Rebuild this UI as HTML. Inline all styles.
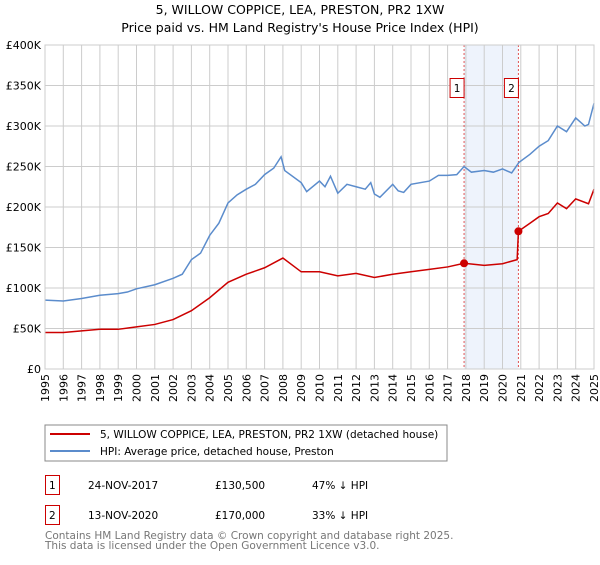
<!DOCTYPE html>
<html><head><meta charset="utf-8"><style>
body{margin:0;background:#fff;font-family:"Liberation Sans","DejaVu Sans",sans-serif;}
svg text{font-family:"DejaVu Sans","Liberation Sans",sans-serif;}
</style></head><body>
<svg id="c" width="600" height="560" xmlns="http://www.w3.org/2000/svg">
<text x="300" y="14" text-anchor="middle" font-size="12.5">5, WILLOW COPPICE, LEA, PRESTON, PR2 1XW</text>
<text x="300" y="32" text-anchor="middle" font-size="12.5">Price paid vs. HM Land Registry's House Price Index (HPI)</text>
<g id="grid"></g><g id="marks"></g>
<rect x="45" y="425" width="402" height="36" fill="#fff" stroke="#888"/>
<line x1="50" y1="434" x2="90" y2="434" stroke="#cc0000" stroke-width="2"/>
<text x="100" y="438" font-size="10.5">5, WILLOW COPPICE, LEA, PRESTON, PR2 1XW (detached house)</text>
<line x1="50" y1="451" x2="90" y2="451" stroke="#5b8ccc" stroke-width="2"/>
<text x="100" y="455" font-size="10.5">HPI: Average price, detached house, Preston</text>
<g font-size="10.5">
<rect x="45.5" y="475.5" width="14" height="19" fill="none" stroke="#cc0000"/>
<text x="49" y="489">1</text>
<text x="88" y="489">24-NOV-2017</text>
<text x="215" y="489">£130,500</text>
<text x="312" y="489">47% ↓ HPI</text>
<rect x="45.5" y="505.5" width="14" height="19" fill="none" stroke="#cc0000"/>
<text x="49" y="519">2</text>
<text x="88" y="519">13-NOV-2020</text>
<text x="215" y="519">£170,000</text>
<text x="312" y="519">33% ↓ HPI</text>
</g>
<text x="45" y="539" font-size="10.5" fill="#777">Contains HM Land Registry data © Crown copyright and database right 2025.</text>
<text x="45" y="549" font-size="10.5" fill="#777">This data is licensed under the Open Government Licence v3.0.</text>
</svg>
<script>
const hpiYears=[1995,1996,1997,1998,1999,1999.5,2000,2001,2002,2002.5,2003,2003.5,2004,2004.5,2005,2005.5,2006,2006.5,2007,2007.5,2007.9,2008.1,2009,2009.3,2010,2010.3,2010.6,2011,2011.5,2012,2012.5,2012.8,2013,2013.3,2014,2014.3,2014.6,2015,2016,2016.5,2017,2017.5,2017.9,2018.3,2019,2019.5,2020,2020.5,2020.9,2021.5,2022,2022.5,2023,2023.5,2024,2024.5,2024.7,2025];
const hpiValues=[85,84,87,91,93,95,99,104,112,117,135,143,165,180,205,215,222,228,240,248,262,245,230,219,232,225,238,217,228,225,222,230,216,212,228,220,218,228,232,239,239,240,250,243,245,243,247,242,255,265,275,282,300,293,310,300,302,328];
const paidYears=[1995,1996,1997,1998,1999,2000,2001,2002,2003,2004,2005,2006,2007,2008,2009,2010,2011,2012,2013,2014,2015,2016,2017,2017.9,2019,2020,2020.8,2020.87,2021.5,2022,2022.5,2023,2023.5,2024,2024.7,2025];
const paidValues=[45,45,47,49,49,52,55,61,72,88,107,117,125,137,120,120,115,118,113,117,120,123,126,130.5,128,130,135,170,180,188,192,205,198,210,204,222];
const saleYears=[2017.9,2020.87];
const saleValues=[130.5,170];
const saleLabels=["1","2"];
const yTicks=[0,50,100,150,200,250,300,350,400];
const xTicks=[1995,1996,1997,1998,1999,2000,2001,2002,2003,2004,2005,2006,2007,2008,2009,2010,2011,2012,2013,2014,2015,2016,2017,2018,2019,2020,2021,2022,2023,2024,2025];
const X0=45,X1=594,Y0=369,Y1=45;
const sx=y=>X0+(y-1995)/30*(X1-X0);
const sy=v=>Y0-v/400*(Y0-Y1);
const NS="http://www.w3.org/2000/svg";
function mk(p,t,a){const e=document.createElementNS(NS,t);for(const k in a)e.setAttribute(k,a[k]);p.appendChild(e);return e;}
const g=document.getElementById('grid'),m=document.getElementById('marks');
const band=mk(g,'rect',{x:sx(saleYears[0]),y:Y1,width:sx(saleYears[1])-sx(saleYears[0]),height:Y0-Y1,fill:'#eef3fc'});


yTicks.forEach(v=>{
 const l=mk(g,'line',{x1:X0,x2:X1,y1:sy(v),y2:sy(v),stroke:'#ccc'});
 
 
 const t=mk(g,'text',{x:X0-4,y:sy(v)+4,'text-anchor':'end','font-size':'11'});
 t.textContent=v===0?'£0':'£'+v+'K';
 
 
});
xTicks.forEach(y=>{
 const l=mk(g,'line',{x1:sx(y),x2:sx(y),y1:Y1,y2:Y0,stroke:'#ccc'});
 
 
 const t=mk(g,'text',{x:0,y:0,'text-anchor':'end','font-size':'11',transform:`translate(${sx(y)+4},${Y0+5}) rotate(-90)`});
 t.textContent=y;
 
 
});
saleYears.forEach((y,i)=>{
 const l=mk(m,'line',{x1:sx(y),x2:sx(y),y1:Y1,y2:Y0,stroke:'#e05555','stroke-dasharray':'2,2'});
 
 
});
const hp=mk(m,'polyline',{points:hpiYears.map((y,i)=>sx(y)+','+sy(hpiValues[i])).join(' '),fill:'none',stroke:'#5b8ccc','stroke-width':'1.5'});


const pp=mk(m,'polyline',{points:paidYears.map((y,i)=>sx(y)+','+sy(paidValues[i])).join(' '),fill:'none',stroke:'#cc0000','stroke-width':'1.5'});


saleYears.forEach((y,i)=>{
 const c=mk(m,'circle',{cx:sx(y),cy:sy(saleValues[i]),r:4,fill:'#cc0000'});
 
 
 const b=mk(m,'rect',{x:sx(y)-14,y:78.5,width:14,height:19,fill:'#fff',stroke:'#cc0000'});
 
 
 const t=mk(m,'text',{x:sx(y)-7,y:92,'text-anchor':'middle','font-size':'10.5'});
 t.textContent=saleLabels[i];
 
 
});
mk(m,'rect',{x:X0,y:Y1,width:X1-X0,height:Y0-Y1,fill:'none',stroke:'#ccc'});
</script>
</body></html>
